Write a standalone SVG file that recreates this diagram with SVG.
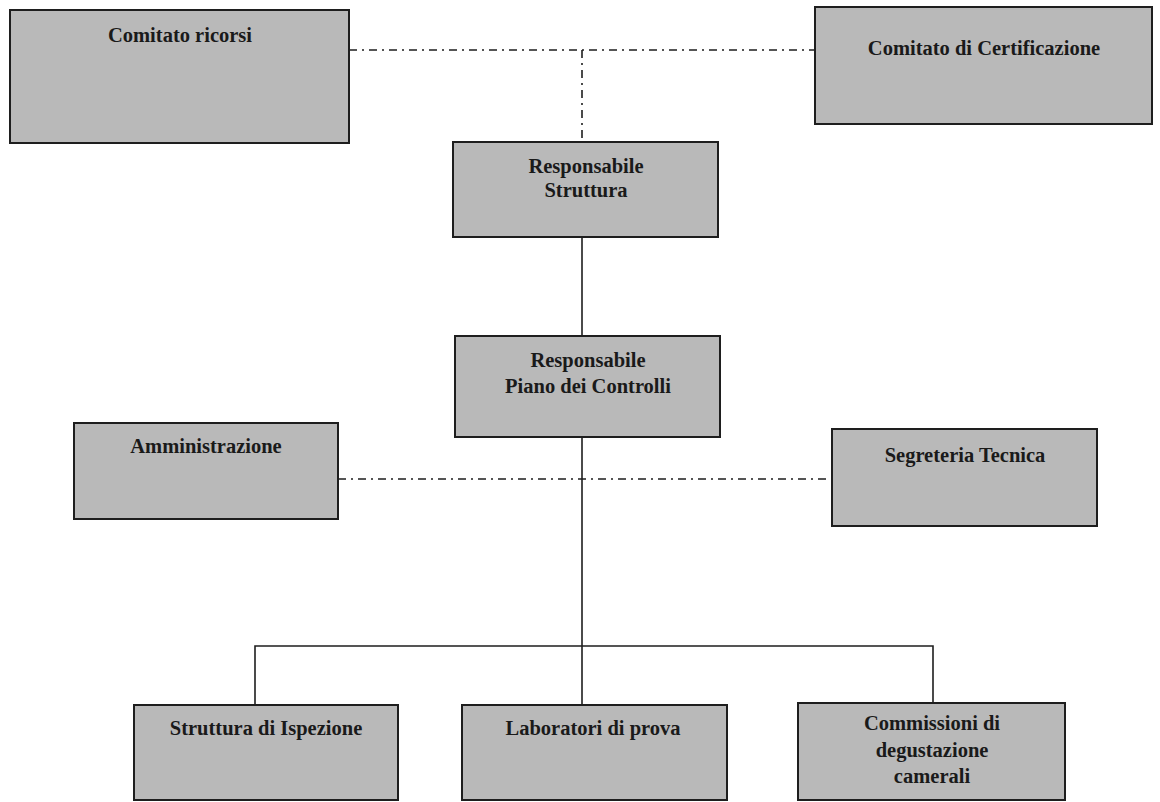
<svg xmlns="http://www.w3.org/2000/svg" width="1160" height="802" viewBox="0 0 1160 802">
  <style>
    .box { fill: #b9b9b9; stroke: #1e1e1e; stroke-width: 2; }
    .lbl { font-family: "Liberation Serif", "Times New Roman", serif; font-weight: bold; font-size: 20.5px; fill: #1a1a1a; text-anchor: middle; }
    .solid { fill: none; stroke: #1e1e1e; stroke-width: 1.6; }
    .dashdot { fill: none; stroke: #1e1e1e; stroke-width: 1.6; stroke-dasharray: 8 5 2 5; }
  </style>
  <rect width="1160" height="802" fill="#ffffff"/>
  <g id="connectors">
    <path class="dashdot" d="M 349 50 L 815 50"/>
    <path class="dashdot" d="M 582 50 L 582 142"/>
    <path class="solid" d="M 582 237 L 582 336"/>
    <path class="solid" d="M 582 437 L 582 705"/>
    <path class="dashdot" d="M 338 479 L 832 479"/>
    <path class="solid" d="M 255 705 L 255 646 L 933 646 L 933 703"/>
  </g>
  <g id="comitato-ricorsi">
    <rect class="box" x="10" y="10" width="339" height="133"/>
    <text class="lbl" x="180" y="42">Comitato ricorsi</text>
  </g>
  <g id="comitato-certificazione">
    <rect class="box" x="815" y="7" width="337" height="117"/>
    <text class="lbl" x="984" y="55">Comitato di Certificazione</text>
  </g>
  <g id="responsabile-struttura">
    <rect class="box" x="453" y="142" width="265" height="95"/>
    <text class="lbl" x="586" y="173">Responsabile</text>
    <text class="lbl" x="586" y="197">Struttura</text>
  </g>
  <g id="responsabile-piano">
    <rect class="box" x="455" y="336" width="265" height="101"/>
    <text class="lbl" x="588" y="367">Responsabile</text>
    <text class="lbl" x="588" y="393">Piano dei Controlli</text>
  </g>
  <g id="amministrazione">
    <rect class="box" x="74" y="423" width="264" height="96"/>
    <text class="lbl" x="206" y="453">Amministrazione</text>
  </g>
  <g id="segreteria-tecnica">
    <rect class="box" x="832" y="429" width="265" height="97"/>
    <text class="lbl" x="965" y="462">Segreteria Tecnica</text>
  </g>
  <g id="struttura-ispezione">
    <rect class="box" x="134" y="705" width="264" height="95"/>
    <text class="lbl" x="266" y="735">Struttura di Ispezione</text>
  </g>
  <g id="laboratori-prova">
    <rect class="box" x="462" y="705" width="265" height="95"/>
    <text class="lbl" x="593" y="735">Laboratori di prova</text>
  </g>
  <g id="commissioni-degustazione">
    <rect class="box" x="798" y="703" width="267" height="97"/>
    <text class="lbl" x="932" y="730">Commissioni di</text>
    <text class="lbl" x="932" y="757">degustazione</text>
    <text class="lbl" x="932" y="783">camerali</text>
  </g>
</svg>
